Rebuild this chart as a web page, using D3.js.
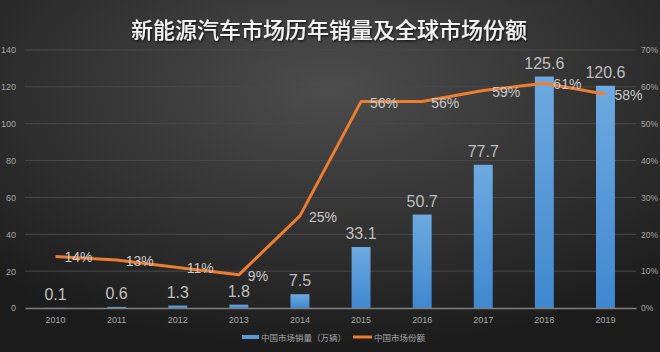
<!DOCTYPE html>
<html>
<head>
<meta charset="utf-8">
<script src="https://cdn.jsdelivr.net/npm/d3@7"></script>
<style>
  body { margin: 0; background: #222; }
  text { font-family: "Noto Sans CJK SC", "Noto Sans", sans-serif; }
</style>
</head>
<body>
<div id="chart"></div>
<script>
// data
var years = ["2010", "2011", "2012", "2013", "2014", "2015", "2016", "2017", "2018", "2019"];
var sales = [0.1, 0.6, 1.3, 1.8, 7.5, 33.1, 50.7, 77.7, 125.6, 120.6];
var share = [14, 13, 11, 9, 25, 56, 56, 59, 61, 58];
var leftTicks = [0, 20, 40, 60, 80, 100, 120, 140];
var rightTicks = [0, 10, 20, 30, 40, 50, 60, 70];

var W = 660, H = 352;
var margin = {top: 50, right: 24, bottom: 44, left: 25};
var width = W - margin.left - margin.right,
    height = H - margin.top - margin.bottom;
var axisFont = "Liberation Sans Narrow, Liberation Sans, sans-serif";

var svg = d3.select("#chart").append("svg")
    .attr("width", W)
    .attr("height", H);

// background gradient
var defs = svg.append("defs");
var bg = defs.append("radialGradient")
    .attr("id", "bg")
    .attr("cx", "50%").attr("cy", "25%").attr("r", "75%");
bg.append("stop").attr("offset", "0%").attr("stop-color", "#4d4d4d");
bg.append("stop").attr("offset", "100%").attr("stop-color", "#1c1c1c");

var barGrad = defs.append("linearGradient")
    .attr("id", "barGrad")
    .attr("x1", 0).attr("y1", 0).attr("x2", 0).attr("y2", 1);
barGrad.append("stop").attr("offset", "0%").attr("stop-color", "#6ea9e0");
barGrad.append("stop").attr("offset", "100%").attr("stop-color", "#3f88cf");

var shadow = defs.append("filter").attr("id", "shadow");
shadow.append("feDropShadow").attr("dx", 1).attr("dy", 1.5).attr("stdDeviation", 1)
    .attr("flood-color", "#000").attr("flood-opacity", 0.7);

svg.append("rect").attr("width", W).attr("height", H).attr("fill", "url(#bg)");

// title
svg.append("text")
    .attr("x", 329)
    .attr("y", 38)
    .attr("text-anchor", "middle")
    .attr("fill", "#f2f2f2")
    .attr("font-size", 22)
    .attr("font-weight", 500)
    .attr("filter", "url(#shadow)")
    .text("新能源汽车市场历年销量及全球市场份额");

var g = svg.append("g")
    .attr("transform", "translate(" + margin.left + "," + margin.top + ")");

// scales
var x = d3.scaleBand().domain(years).range([0, width]).paddingInner(0.69).paddingOuter(0.345);
var y = d3.scaleLinear().domain([0, 140]).range([height, 0]);
var y2 = d3.scaleLinear().domain([0, 70]).range([height, 0]);

// gridlines
g.selectAll(".grid")
    .data(leftTicks.slice(1))
    .enter().append("line")
    .attr("class", "grid")
    .attr("x1", 0).attr("x2", width)
    .attr("y1", function(d) { return y(d); })
    .attr("y2", function(d) { return y(d); })
    .attr("stroke", "#4a4a4a")
    .attr("stroke-width", 1);

// left axis
var yAxis = d3.axisLeft(y).tickValues(leftTicks).tickSize(0).tickPadding(9);
g.append("g").call(yAxis)
    .call(function(s) { s.select(".domain").remove(); })
    .selectAll("text").attr("fill", "#a6a6a6").attr("font-size", 9)
    .style("font-family", axisFont);

// right axis
var y2Axis = d3.axisRight(y2).tickValues(rightTicks).tickSize(0).tickPadding(5)
    .tickFormat(function(d) { return d + "%"; });
g.append("g").attr("transform", "translate(" + width + ",0)").call(y2Axis)
    .call(function(s) { s.select(".domain").remove(); })
    .selectAll("text").attr("fill", "#a6a6a6").attr("font-size", 8.5)
    .style("font-family", axisFont);

// bars
g.selectAll(".bar")
    .data(sales)
    .enter().append("rect")
    .attr("class", "bar")
    .attr("x", function(d, i) { return x(years[i]); })
    .attr("width", x.bandwidth())
    .attr("y", function(d) { return y(d); })
    .attr("height", function(d) { return height - y(d); })
    .attr("fill", "url(#barGrad)");

// x axis
var xAxis = d3.axisBottom(x).tickSize(0).tickPadding(9);
var xg = g.append("g").attr("transform", "translate(0," + height + ")").call(xAxis);
xg.select(".domain").attr("stroke", "#7f7f7f").attr("stroke-width", 1.5);
xg.selectAll("text").attr("fill", "#a6a6a6").attr("font-size", 9)
    .style("font-family", axisFont);

// bar labels
g.selectAll(".barLabel")
    .data(sales)
    .enter().append("text")
    .attr("class", "barLabel")
    .attr("x", function(d, i) { return x(years[i]) + x.bandwidth() / 2; })
    .attr("y", function(d) { return y(d) - 8; })
    .attr("text-anchor", "middle")
    .attr("fill", "#bfbfbf")
    .attr("font-size", 16)
    .style("font-family", "Liberation Sans, sans-serif")
    .text(function(d) { return d; });

// share line
var line = d3.line()
    .x(function(d, i) { return x(years[i]) + x.bandwidth() / 2; })
    .y(function(d) { return y2(d); });

g.append("path")
    .datum(share)
    .attr("d", line)
    .attr("fill", "none")
    .attr("stroke", "#ed7d31")
    .attr("stroke-width", 3)
    .attr("stroke-linejoin", "round");

g.selectAll(".shareLabel")
    .data(share)
    .enter().append("text")
    .attr("class", "shareLabel")
    .attr("x", function(d, i) { return x(years[i]) + x.bandwidth() / 2 + 9; })
    .attr("y", function(d) { return y2(d) + 6; })
    .attr("fill", "#c8c8c8")
    .attr("font-size", 14)
    .style("font-family", "Liberation Sans, sans-serif")
    .text(function(d) { return d + "%"; });

// legend
var leg = svg.append("g").attr("transform", "translate(0,337)");
leg.append("rect").attr("x", 242).attr("y", -2).attr("width", 17).attr("height", 4).attr("fill", "#5b9bd5");
leg.append("text").attr("x", 261).attr("y", 3.5).attr("fill", "#a6a6a6").attr("font-size", 8.5)
    .text("中国市场销量（万辆）");
leg.append("line").attr("x1", 353).attr("x2", 372).attr("y1", 0).attr("y2", 0)
    .attr("stroke", "#ed7d31").attr("stroke-width", 3);
leg.append("text").attr("x", 374).attr("y", 3.5).attr("fill", "#a6a6a6").attr("font-size", 8.5)
    .text("中国市场份额");
</script>
</body>
</html>
